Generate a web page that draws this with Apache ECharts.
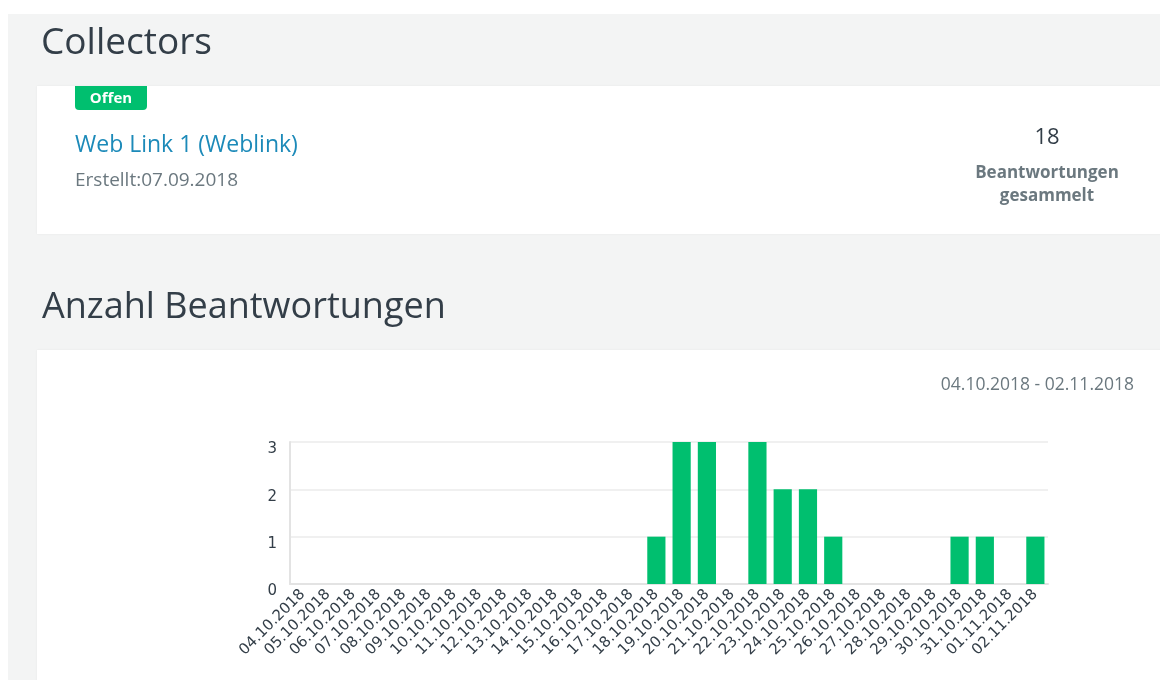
<!DOCTYPE html>
<html>
<head>
<meta charset="utf-8">
<script src="https://cdn.jsdelivr.net/npm/echarts@6/dist/echarts.min.js"></script>
<style>
  html, body { margin: 0; padding: 0; background: #fff; }
  #main { width: 1160px; height: 680px; }
</style>
</head>
<body>
<div id="main"></div>
<script>
const dates = [
  "04.10.2018", "05.10.2018", "06.10.2018", "07.10.2018", "08.10.2018",
  "09.10.2018", "10.10.2018", "11.10.2018", "12.10.2018", "13.10.2018",
  "14.10.2018", "15.10.2018", "16.10.2018", "17.10.2018", "18.10.2018",
  "19.10.2018", "20.10.2018", "21.10.2018", "22.10.2018", "23.10.2018",
  "24.10.2018", "25.10.2018", "26.10.2018", "27.10.2018", "28.10.2018",
  "29.10.2018", "30.10.2018", "31.10.2018", "01.11.2018", "02.11.2018"
];
const responses = [
  0, 0, 0, 0, 0, 0, 0, 0, 0, 0,
  0, 0, 0, 0, 1, 3, 3, 0, 3, 2,
  2, 1, 0, 0, 0, 0, 1, 1, 0, 1
];
const yTicks = [0, 1, 2, 3];

const font = "Open Sans, Lato, sans-serif";
const axisFont = "DejaVu Sans, sans-serif";
const dark = "#333e48";
const grey = "#6b787f";

const chart = echarts.init(document.getElementById("main"));
chart.setOption({
  animation: false,
  graphic: [
    // page panel and the two white cards
    { type: "rect", z: -10, shape: { x: 8, y: 14, width: 1160, height: 680 }, style: { fill: "#f3f4f4" } },
    { type: "rect", z: -9, shape: { x: 37, y: 86, width: 1130, height: 148 }, style: { fill: "#ffffff", shadowColor: "rgba(0,0,0,0.06)", shadowBlur: 2 } },
    { type: "rect", z: -9, shape: { x: 37, y: 350, width: 1130, height: 340 }, style: { fill: "#ffffff", shadowColor: "rgba(0,0,0,0.06)", shadowBlur: 2 } },
    { type: "text", z: 10, x: 41, y: 43, style: { text: "Collectors", fontSize: 37, fontFamily: font, fill: dark, verticalAlign: "middle" } },
    { type: "rect", z: 10, shape: { x: 75, y: 86, width: 72, height: 24, r: [0, 0, 4, 4] }, style: { fill: "#00bf6f" } },
    { type: "text", z: 11, x: 111, y: 99, style: { text: "Offen", fontSize: 15, fontWeight: "bold", fontFamily: font, fill: "#fff", align: "center", verticalAlign: "middle" } },
    { type: "text", z: 10, x: 75, y: 145, style: { text: "Web Link 1 (Weblink)", fontSize: 23, fontFamily: font, fill: "#1c8ab9", verticalAlign: "middle" } },
    { type: "text", z: 10, x: 75, y: 181, style: { text: "Erstellt:07.09.2018", fontSize: 19, fontFamily: font, fill: grey, verticalAlign: "middle" } },
    { type: "text", z: 10, x: 1047, y: 138, style: { text: "18", fontSize: 22, fontFamily: font, fill: dark, align: "center", verticalAlign: "middle" } },
    { type: "text", z: 10, x: 1047, y: 185, style: { text: "Beantwortungen\ngesammelt", fontSize: 17, lineHeight: 23, fontWeight: "bold", fontFamily: font, fill: grey, align: "center", verticalAlign: "middle" } },
    { type: "text", z: 10, x: 42, y: 308, style: { text: "Anzahl Beantwortungen", fontSize: 36, fontFamily: font, fill: dark, verticalAlign: "middle" } },
    { type: "text", z: 10, x: 1134, y: 385, style: { text: "04.10.2018 - 02.11.2018", fontSize: 17.5, fontFamily: font, fill: grey, align: "right", verticalAlign: "middle" } }
  ],
  grid: { left: 290, right: 112, top: 442, bottom: 96 },
  xAxis: {
    type: "category",
    data: dates,
    axisLine: { lineStyle: { color: "#e3e3e3", width: 2 } },
    axisTick: { show: false },
    axisLabel: { rotate: 45, interval: 0, fontSize: 15, fontFamily: axisFont, color: dark, margin: 8 }
  },
  yAxis: {
    type: "value",
    min: yTicks[0],
    max: yTicks[yTicks.length - 1],
    interval: 1,
    axisLine: { show: true, lineStyle: { color: "#e3e3e3", width: 2 } },
    axisTick: { show: false },
    axisLabel: { fontSize: 15, fontFamily: axisFont, color: dark, margin: 13, verticalAlign: "top" },
    splitLine: { lineStyle: { color: "#f0f0f0", width: 2 } }
  },
  series: [{
    type: "bar",
    data: responses,
    barCategoryGap: "28%",
    itemStyle: { color: "#00bf6f" }
  }]
});
</script>
</body>
</html>
